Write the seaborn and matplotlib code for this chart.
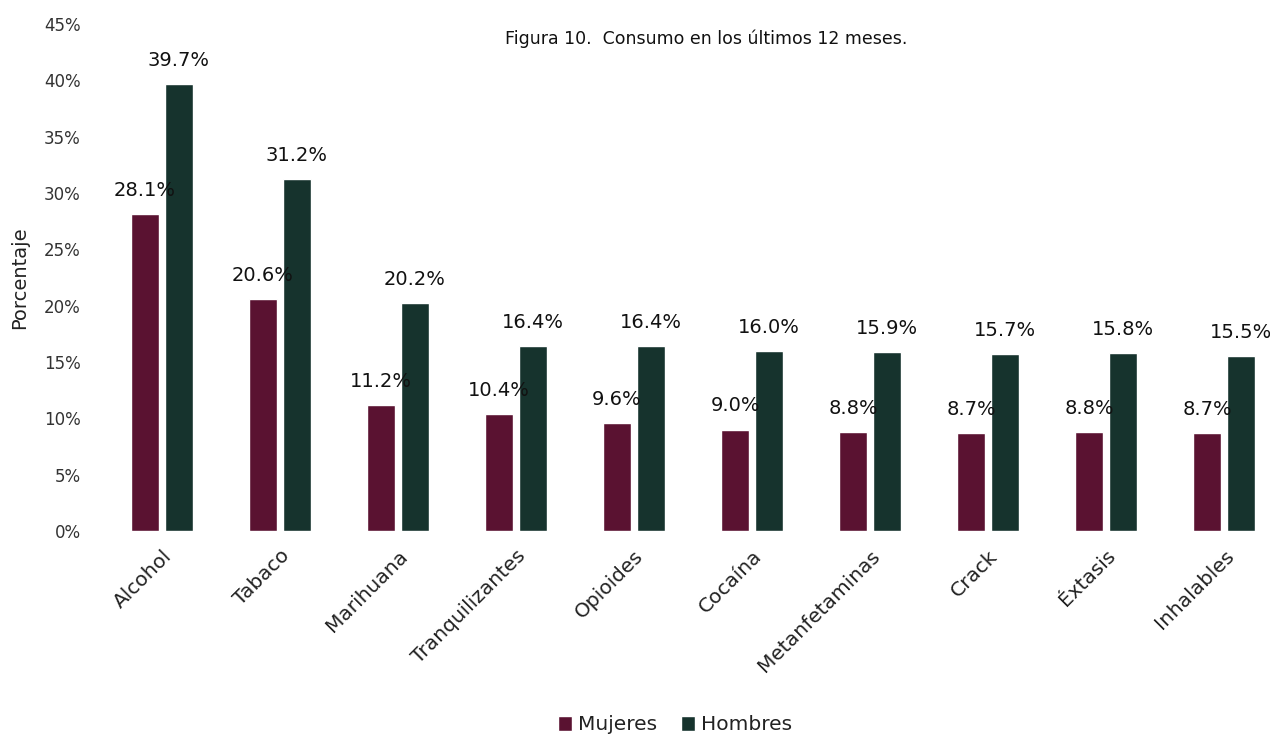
import matplotlib
matplotlib.use("Agg")
import matplotlib.pyplot as plt
import seaborn as sns
import pandas as pd
from matplotlib.ticker import FuncFormatter

sustancias = ["Alcohol", "Tabaco", "Marihuana", "Tranquilizantes", "Opioides",
              "Cocaína", "Metanfetaminas", "Crack", "Éxtasis", "Inhalables"]
mujeres = [28.1, 20.6, 11.2, 10.4, 9.6, 9.0, 8.8, 8.7, 8.8, 8.7]
hombres = [39.7, 31.2, 20.2, 16.4, 16.4, 16.0, 15.9, 15.7, 15.8, 15.5]
grupos = ["Mujeres", "Hombres"]
colores = {"Mujeres": "#5a1231", "Hombres": "#16332d"}

df = pd.DataFrame({
    "Sustancia": sustancias * 2,
    "Sexo": ["Mujeres"] * len(sustancias) + ["Hombres"] * len(sustancias),
    "Porcentaje": mujeres + hombres,
})

sns.set_theme(style="white")
plt.rcParams["font.family"] = ["DejaVu Sans"]
plt.rcParams["text.color"] = "#222222"

fig = plt.figure(figsize=(12.7, 7.37), dpi=100)
W, H = 1270, 737
x0, x1 = 103, 1270
y0, y1 = 531, 24
ax = fig.add_axes([x0 / W, 1 - y0 / H, (x1 - x0) / W, (y0 - y1) / H])

sns.barplot(data=df, x="Sustancia", y="Porcentaje", hue="Sexo",
            hue_order=grupos, palette=colores, width=0.576, gap=0.205,
            saturation=1, ax=ax, legend=True)

for cont in ax.containers:
    for bar in cont:
        h = bar.get_height()
        ax.annotate(f"{h:.1f}%", (bar.get_x() + bar.get_width() / 2, h),
                    xytext=(0, 17), textcoords="offset points",
                    ha="center", va="center", fontsize=14, color="#111111")

ax.set_ylim(0, 45)
ax.set_xlim(-0.5, -0.5 + (x1 - x0) / 118.0)
ax.set_yticks(range(0, 46, 5))
ax.yaxis.set_major_formatter(FuncFormatter(lambda v, p: f"{v:.0f}%"))
ax.tick_params(axis="y", labelsize=12, colors="#333333", length=0, pad=16)
ax.tick_params(axis="x", labelsize=14.5, colors="#222222", length=0, pad=11)
plt.setp(ax.get_xticklabels(), rotation=45, ha="right", rotation_mode="anchor")
ax.set_xlabel("")
ax.set_ylabel("Porcentaje", fontsize=14, color="#222222")
ax.yaxis.set_label_coords(-74 / (x1 - x0), 0.5)
for s in ax.spines.values():
    s.set_visible(False)
ax.grid(False)

ax.set_title("Figura 10.  Consumo en los últimos 12 meses.", fontsize=12.5,
             x=(706 - x0) / (x1 - x0), y=(y0 - 39) / (y0 - y1), va="center",
             pad=0, color="#111111")

leg = ax.legend(loc="center", bbox_to_anchor=(675 / W, 1 - 725 / H),
                bbox_transform=fig.transFigure, ncol=2, frameon=False,
                fontsize=14.5, handlelength=0.7, handleheight=0.7,
                handletextpad=0.3, columnspacing=1.2)

fig.savefig("out.png", dpi=100)
